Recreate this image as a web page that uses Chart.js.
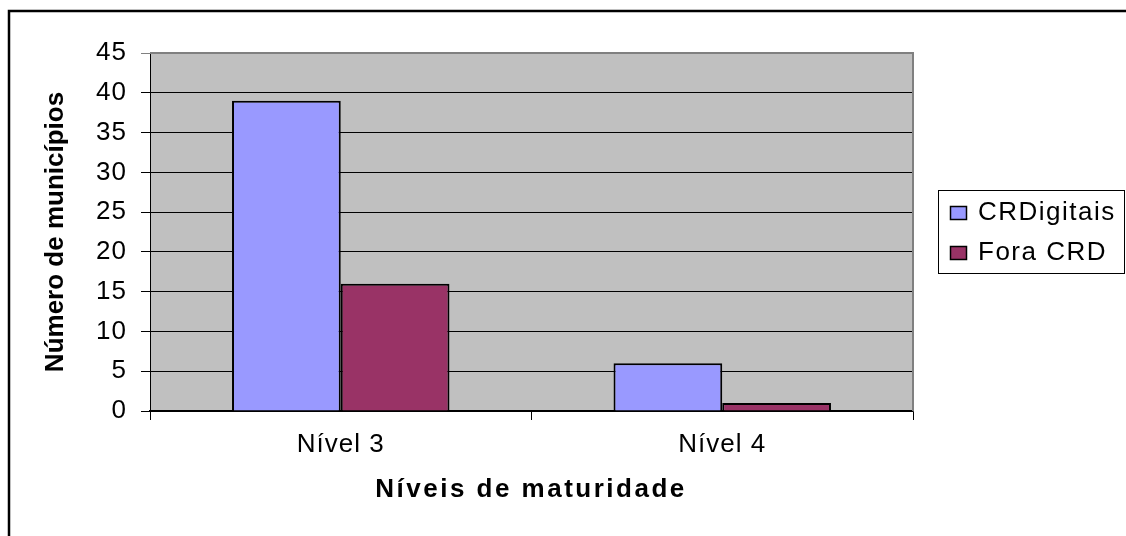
<!DOCTYPE html>
<html>
<head>
<meta charset="utf-8">
<script src="https://cdn.jsdelivr.net/npm/chart.js@4/dist/chart.umd.min.js"></script>
<style>
  body { margin: 0; background: #fff; }
  #wrap { width: 1126px; height: 536px; }
</style>
</head>
<body>
<div id="wrap"><canvas id="chart" width="1126" height="536"></canvas></div>
<script>
const categories = ["Nível 3", "Nível 4"];
const seriesNames = ["CRDigitais", "Fora CRD"];
const crDigitais = [39, 6];
const foraCRD = [16, 1];
const yMax = 45;
const yStep = 5;
const xTitle = "Níveis de maturidade";
const yTitle = "Número de municípios";

const FONT = '"Liberation Sans", Arial, sans-serif';
const colors = ["#9999FF", "#993366"];

// frame, plot background, legend and axis titles
const decor = {
  id: "decor",
  beforeDraw(chart) {
    const { ctx, chartArea: a } = chart;
    ctx.save();
    ctx.fillStyle = "#C0C0C0";
    ctx.fillRect(a.left, a.top, a.right - a.left, a.bottom - a.top);
    ctx.restore();
    ctx.letterSpacing = "1px";
  },
  afterDraw(chart) {
    const { ctx, chartArea: a } = chart;
    ctx.save();
    // outer frame (runs off right and bottom)
    ctx.strokeStyle = "#000";
    ctx.lineWidth = 2.5;
    ctx.beginPath();
    ctx.moveTo(9, 540);
    ctx.lineTo(9, 11);
    ctx.lineTo(1130, 11);
    ctx.stroke();

    // plot border top/right
    ctx.strokeStyle = "#808080";
    ctx.lineWidth = 2;
    ctx.beginPath();
    ctx.moveTo(a.left, a.top);
    ctx.lineTo(a.right, a.top);
    ctx.lineTo(a.right, a.bottom);
    ctx.stroke();

    // legend
    ctx.fillStyle = "#fff";
    ctx.fillRect(938.5, 190.5, 186, 83);
    ctx.strokeStyle = "#000";
    ctx.lineWidth = 1;
    ctx.strokeRect(938.5, 190.5, 186, 83);
    ctx.font = "26px " + FONT;
    ctx.letterSpacing = "1.5px";
    ctx.textBaseline = "middle";
    ctx.textAlign = "left";
    chart.data.datasets.forEach((ds, i) => {
      const cy = 213 + i * 40;
      ctx.fillStyle = ds.backgroundColor;
      ctx.fillRect(950.5, cy - 6.5, 16, 13);
      ctx.strokeStyle = "#000";
      ctx.lineWidth = 1.5;
      ctx.strokeRect(950.5, cy - 6.5, 16, 13);
      ctx.fillStyle = "#000";
      ctx.fillText(ds.label, 978, cy);
    });

    // x axis title
    ctx.font = "bold 26px " + FONT;
    ctx.letterSpacing = "2.5px";
    ctx.textAlign = "center";
    ctx.textBaseline = "alphabetic";
    ctx.fillStyle = "#000";
    ctx.fillText(xTitle, 531, 497);

    // y axis title
    ctx.font = "bold 26px " + FONT;
    ctx.letterSpacing = "0px";
    ctx.translate(56, (a.top + a.bottom) / 2);
    ctx.rotate(-Math.PI / 2);
    ctx.textBaseline = "middle";
    ctx.fillText(yTitle, 0, 0);
    ctx.restore();
  }
};

new Chart(document.getElementById("chart"), {
  type: "bar",
  data: {
    labels: categories,
    datasets: [
      { label: seriesNames[0], data: crDigitais, backgroundColor: colors[0] },
      { label: seriesNames[1], data: foraCRD, backgroundColor: colors[1] }
    ].map(d => Object.assign(d, {
      borderColor: "#000",
      borderWidth: 2,
      barPercentage: 1.0,
      categoryPercentage: 0.57
    }))
  },
  options: {
    responsive: false,
    animation: false,
    layout: { padding: { top: 53, right: 213, left: 0, bottom: 0 } },
    plugins: {
      legend: { display: false },
      tooltip: { enabled: false }
    },
    scales: {
      x: {
        grid: {
          offset: true,
          drawOnChartArea: false,
          drawTicks: true,
          tickLength: 9,
          color: "#000"
        },
        border: { color: "#000", width: 1.5 },
        ticks: {
          color: "#000",
          padding: 9,
          font: { family: FONT, size: 26 }
        },
        afterFit(s) { s.height = 125; }
      },
      y: {
        min: 0,
        max: yMax,
        ticks: {
          stepSize: yStep,
          color: "#000",
          padding: 14,
          font: { family: FONT, size: 26 }
        },
        grid: {
          color: ctx => (ctx.tick && ctx.tick.value === yMax ? "#808080" : "#000"),
          lineWidth: 1,
          tickLength: 9
        },
        border: { color: "#000", width: 1 },
        afterFit(s) { s.width = 150; }
      }
    }
  },
  plugins: [decor]
});
</script>
</body>
</html>
